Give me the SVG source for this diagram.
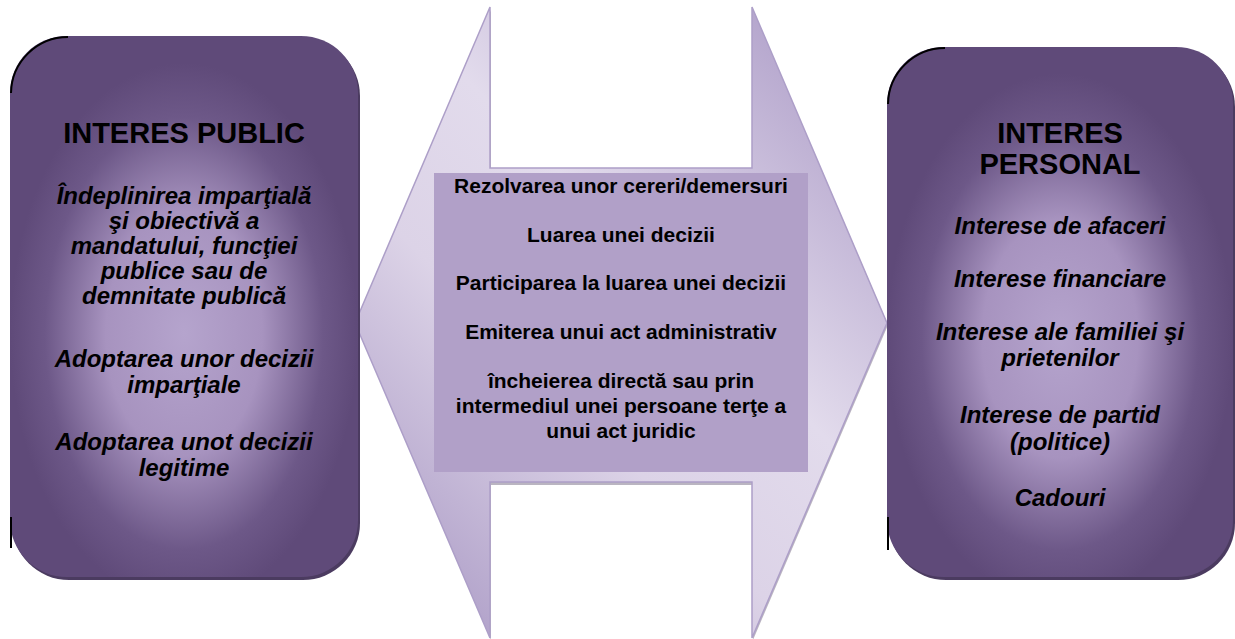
<svg xmlns="http://www.w3.org/2000/svg" width="1235" height="639" viewBox="0 0 1235 639">
<defs>
<radialGradient id="boxGrad" cx="0.5" cy="0.55" r="0.5">
<stop offset="0" stop-color="#b5a4cd"/>
<stop offset="0.45" stop-color="#a793bf"/>
<stop offset="0.8" stop-color="#6d5888"/>
<stop offset="1" stop-color="#5f4a79"/>
</radialGradient>
<linearGradient id="arrowGrad" gradientUnits="userSpaceOnUse" x1="398" y1="545" x2="844" y2="99">
<stop offset="0" stop-color="#b3a4cb"/>
<stop offset="0.35" stop-color="#dcd3e7"/>
<stop offset="0.6" stop-color="#e2dbec"/>
<stop offset="1" stop-color="#b5a6cd"/>
</linearGradient>
<style>
.shadow{fill:#4b3b60}
.box{fill:url(#boxGrad)}
.title{font-family:"Liberation Sans",Arial,sans-serif;font-weight:bold;font-size:29px;fill:#000;text-anchor:middle}
.item{font-family:"Liberation Sans",Arial,sans-serif;font-weight:bold;font-style:italic;font-size:24px;fill:#000;text-anchor:middle}
.mid{font-family:"Liberation Sans",Arial,sans-serif;font-weight:bold;font-size:21px;fill:#000;text-anchor:middle}
.art{fill:none;stroke:#000;stroke-width:2}
</style>
</defs>
<rect width="1235" height="639" fill="#ffffff"/>

<g id="connectors">
<polygon points="356,325 491,10 491,171 753,171 753,10 888,325 753,640 753,485 491,485 491,640" fill="#9d95a7" opacity="0.7"/>
<polygon id="double-arrow" points="355,323 490,7 490,168 752,168 752,7 887,323 752,638 752,482 490,482 490,638" fill="url(#arrowGrad)" stroke="#ad9fc8" stroke-width="1.5" stroke-linejoin="miter"/>
</g>

<g id="public-interest">
<rect class="shadow" x="12" y="39" width="348" height="541" rx="57"/>
<rect class="box" x="10" y="36" width="348" height="541" rx="57"/>
<path class="art" d="M11,93 A57,57 0 0 1 68,37"/>
<path class="art" d="M11,517 L11,548"/>
<text class="title" x="184" y="143">INTERES PUBLIC</text>
<text class="item" x="184" y="204">Îndeplinirea  imparţială</text>
<text class="item" x="184" y="229">şi obiectivă a</text>
<text class="item" x="184" y="254">mandatului, funcţiei</text>
<text class="item" x="184" y="279">publice sau de</text>
<text class="item" x="184" y="304">demnitate publică</text>
<text class="item" x="184" y="367">Adoptarea unor decizii</text>
<text class="item" x="184" y="393">imparţiale</text>
<text class="item" x="184" y="450">Adoptarea unot decizii</text>
<text class="item" x="184" y="476">legitime</text>
</g>

<g id="actions">
<rect x="434" y="173" width="374" height="299" fill="#b1a0c8"/>
<text class="mid" x="621" y="193">Rezolvarea unor cereri/demersuri</text>
<text class="mid" x="621" y="242">Luarea unei decizii</text>
<text class="mid" x="621" y="290">Participarea la luarea unei decizii</text>
<text class="mid" x="621" y="339">Emiterea unui act administrativ</text>
<text class="mid" x="621" y="388">încheierea directă sau prin</text>
<text class="mid" x="621" y="413">intermediul unei persoane terţe a</text>
<text class="mid" x="621" y="438">unui act juridic</text>
</g>

<g id="personal-interest">
<rect class="shadow" x="889" y="50" width="346" height="530" rx="57"/>
<rect class="box" x="887" y="47" width="346" height="530" rx="57"/>
<path class="art" d="M888,104 A57,57 0 0 1 945,48"/>
<path class="art" d="M888,517 L888,550"/>
<text class="title" x="1060" y="143">INTERES</text>
<text class="title" x="1060" y="174">PERSONAL</text>
<text class="item" x="1060" y="234">Interese de afaceri</text>
<text class="item" x="1060" y="287">Interese financiare</text>
<text class="item" x="1060" y="340">Interese ale familiei şi</text>
<text class="item" x="1060" y="366">prietenilor</text>
<text class="item" x="1060" y="423">Interese de partid</text>
<text class="item" x="1060" y="450">(politice)</text>
<text class="item" x="1060" y="506">Cadouri</text>
</g>
</svg>
